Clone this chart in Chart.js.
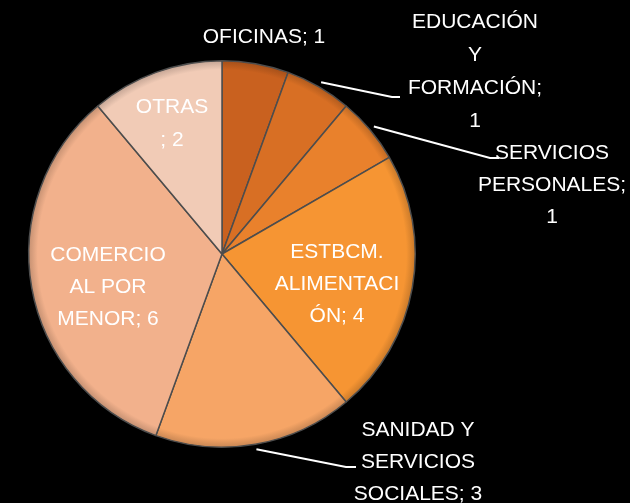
<!DOCTYPE html>
<html>
<head>
<meta charset="utf-8">
<script src="https://cdn.jsdelivr.net/npm/chart.js@4"></script>
<style>
  html, body { margin: 0; padding: 0; background: #000; }
  #wrap { width: 630px; height: 503px; }
</style>
</head>
<body>
<div id="wrap"><canvas id="pieChart" width="630" height="503"></canvas></div>
<script>
const categories = ["OFICINAS", "EDUCACIÓN Y FORMACIÓN", "SERVICIOS PERSONALES",
  "ESTBCM. ALIMENTACIÓN", "SANIDAD Y SERVICIOS SOCIALES", "COMERCIO AL POR MENOR", "OTRAS"];
const values = [1, 1, 1, 4, 3, 6, 2];
const labelLines = [
  ["OFICINAS; 1"],
  ["EDUCACIÓN", "Y", "FORMACIÓN;", "1"],
  ["SERVICIOS", "PERSONALES;", "1"],
  ["ESTBCM.", "ALIMENTACI", "ÓN; 4"],
  ["SANIDAD Y", "SERVICIOS", "SOCIALES; 3"],
  ["COMERCIO", "AL POR", "MENOR; 6"],
  ["OTRAS", "; 2"]
];
const sliceColors = ["#c9611f", "#d86f24", "#e9812c", "#f69533", "#f6a566", "#f2b18c", "#f1cbb6"];

// where each label block sits: [center x, first line y, line gap]
const labelPos = [
  [264, 37, 0],
  [475, 22, 33],
  [552, 153, 32],
  [337, 252, 32],
  [418, 430, 32],
  [108, 255, 32],
  [172, 107, 33]
];
// leader lines: [bend x, bend y, end x] (null = no line)
const leaders = [null, [392, 97, 400], [490, 158, 499], null, [346, 467, 356], null, null];

function darken(hex, f) {
  const n = parseInt(hex.slice(1), 16);
  const r = Math.round(((n >> 16) & 255) * f);
  const g = Math.round(((n >> 8) & 255) * f);
  const b = Math.round((n & 255) * f);
  return `rgb(${r},${g},${b})`;
}

function sliceFill(context) {
  const color = sliceColors[context.dataIndex];
  const area = context.chart.chartArea;
  if (!area) return color;
  const cx = (area.left + area.right) / 2;
  const cy = (area.top + area.bottom) / 2;
  const r = Math.min(area.right - area.left, area.bottom - area.top) / 2;
  const g = context.chart.ctx.createRadialGradient(cx, cy, 0, cx, cy, r);
  g.addColorStop(0, color);
  g.addColorStop(0.95, color);
  g.addColorStop(1, darken(color, 0.8));
  return g;
}

const labelPlugin = {
  id: "sliceLabels",
  afterDatasetsDraw(chart) {
    const ctx = chart.ctx;
    const arcs = chart.getDatasetMeta(0).data;
    ctx.save();
    ctx.strokeStyle = "#ffffff";
    ctx.lineWidth = 2;
    arcs.forEach((arc, i) => {
      const ld = leaders[i];
      if (!ld) return;
      const mid = (arc.startAngle + arc.endAngle) / 2;
      const r = arc.outerRadius + 5;
      ctx.beginPath();
      ctx.moveTo(arc.x + Math.cos(mid) * r, arc.y + Math.sin(mid) * r);
      ctx.lineTo(ld[0], ld[1]);
      ctx.lineTo(ld[2], ld[1]);
      ctx.stroke();
    });
    ctx.fillStyle = "#ffffff";
    ctx.font = "21px 'Liberation Sans', Arial, sans-serif";
    ctx.textAlign = "center";
    ctx.textBaseline = "middle";
    labelLines.forEach((lines, i) => {
      const p = labelPos[i];
      lines.forEach((t, j) => ctx.fillText(t, p[0], p[1] + j * p[2]));
    });
    ctx.restore();
  }
};

new Chart(document.getElementById("pieChart").getContext("2d"), {
  type: "pie",
  data: {
    labels: categories,
    datasets: [{
      data: values,
      backgroundColor: sliceFill,
      borderColor: "#4d4d4d",
      borderWidth: 1.5
    }]
  },
  options: {
    responsive: false,
    animation: false,
    layout: { padding: { left: 28, right: 214, top: 58, bottom: 53 } },
    plugins: {
      legend: { display: false },
      tooltip: { enabled: false }
    }
  },
  plugins: [labelPlugin]
});
</script>
</body>
</html>
